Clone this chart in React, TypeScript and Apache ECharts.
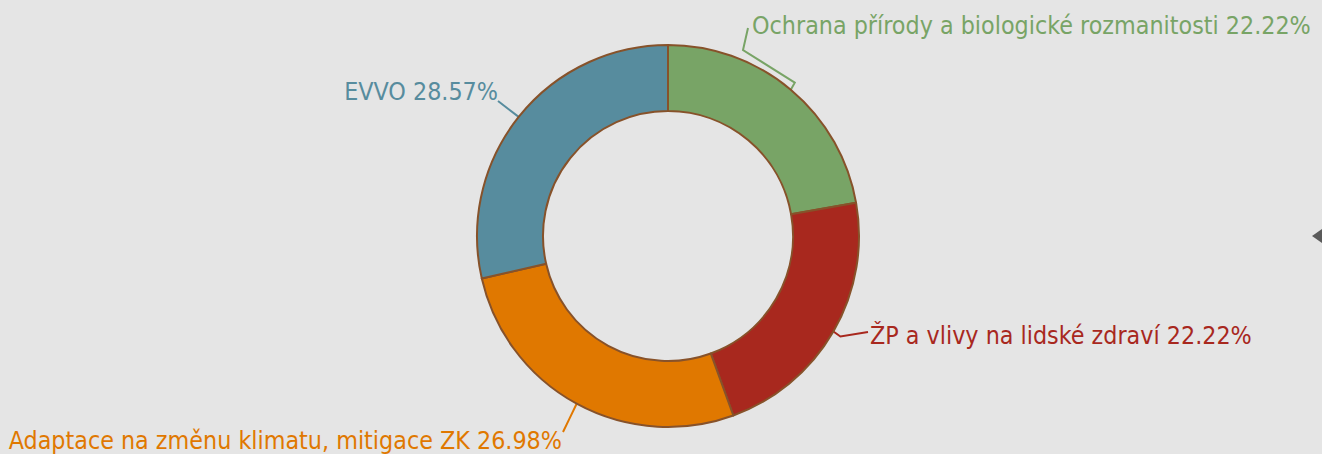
import React, { useEffect, useRef } from "react";
import * as echarts from "echarts";

const categories = [
  "Ochrana přírody a biologické rozmanitosti",
  "ŽP a vlivy na lidské zdraví",
  "Adaptace na změnu klimatu, mitigace ZK",
  "EVVO",
];
const values = [14, 14, 17, 18];
const colors = ["#78a466", "#a8281e", "#e07800", "#578c9e"];
const percents = ["22.22%", "22.22%", "26.98%", "28.57%"];

// label anchors (layout only)
const labelPos: { x: number; y: number; align: string }[] = [
  { x: 752, y: 25, align: "left" },
  { x: 870, y: 335, align: "left" },
  { x: 562, y: 440, align: "right" },
  { x: 498, y: 91, align: "right" },
];

export default function App() {
  const ref = useRef<HTMLDivElement>(null);
  useEffect(() => {
    document.body.style.margin = "0";
    const chart = echarts.init(ref.current!, undefined, { renderer: "svg" });
    const font = '"Liberation Sans Narrow", "DejaVu Sans Condensed", "Open Sans", sans-serif';
    chart.setOption({
      animation: false,
      backgroundColor: "#e5e5e5",
      graphic: [
        {
          type: "polygon",
          shape: { points: [[1312, 236], [1322, 229], [1322, 243]] },
          style: { fill: "#5a5a5a" },
        },
      ],
      series: [
        {
          type: "pie",
          center: [668, 236],
          radius: [125, 191],
          startAngle: 90,
          clockwise: true,
          itemStyle: { borderColor: "#87522a", borderWidth: 2 },
          label: {
            show: true,
            position: "outside",
            fontFamily: font,
            fontSize: 24.8,
            overflow: "none",
            edgeDistance: 0,
            formatter: (p: any) => `${p.name} ${percents[p.dataIndex]}`,
          },
          labelLine: { show: true, length: 10, length2: 10, lineStyle: { width: 2 } },
          labelLayout: (params: any) => {
            const i = params.dataIndex;
            const pos = labelPos[i];
            const pts = params.labelLinePoints;
            const e = pts ? pts[0] : [0, 0];
            let line: number[][];
            if (i === 0) line = [e, [e[0] + 4, e[1] - 7], [743, 50], [748, 28]];
            else if (i === 1) line = [e, [e[0] + 7, e[1] + 5], [868, 332]];
            else if (i === 2) line = [e, [(e[0] + 563) / 2, (e[1] + 432) / 2], [563, 432]];
            else line = [e, [(e[0] + 498) / 2, (e[1] + 101) / 2], [498, 101]];
            return {
              x: pos.x,
              y: pos.y,
              width: 700,
              align: pos.align,
              verticalAlign: "middle",
              labelLinePoints: line,
            };
          },
          data: categories.map((c, i) => ({
            name: c,
            value: values[i],
            itemStyle: { color: colors[i] },
            label: { color: colors[i] },
            labelLine: { lineStyle: { color: colors[i], width: 2 } },
          })),
        },
      ],
    });
    return () => chart.dispose();
  }, []);
  return <div ref={ref} style={{ position: "absolute", left: 0, top: 0, width: 1322, height: 454 }} />;
}
